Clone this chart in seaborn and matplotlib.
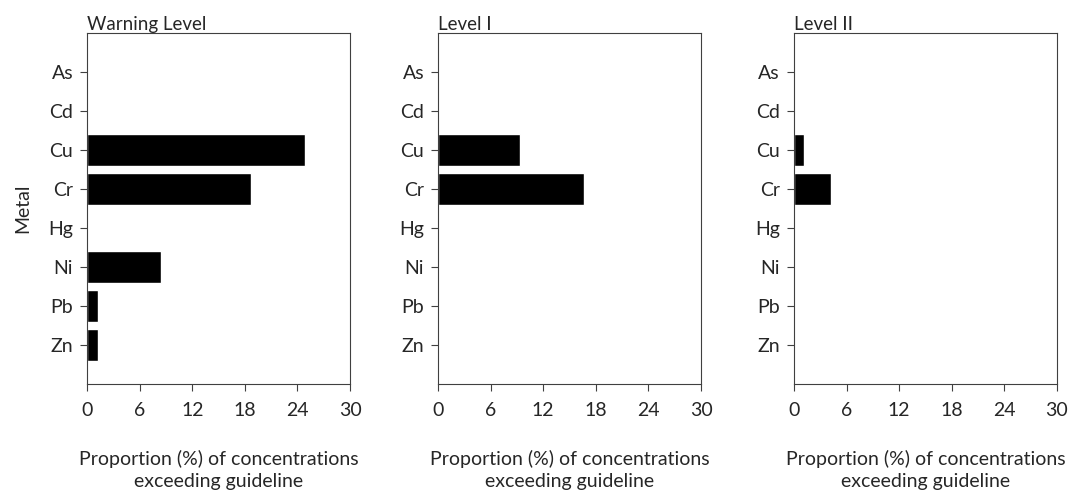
import pandas as pd
from matplotlib import pyplot as plt
import seaborn as sns

metals = ["As", "Cd", "Cu", "Cr", "Hg", "Ni", "Pb", "Zn"]
warning_level = [0, 0, 24.9, 18.7, 0, 8.4, 1.2, 1.2]
level_1 = [0, 0, 9.4, 16.6, 0, 0, 0, 0]
level_2 = [0, 0, 1.1, 4.2, 0, 0, 0, 0]
panel_titles = ["Warning Level", "Level I", "Level II"]
x_ticks = [0, 6, 12, 18, 24, 30]

sns.set_style("ticks")
plt.rcParams['font.family'] = ['Lato', 'DejaVu Sans']
plt.rcParams['font.size'] = 14

fig = plt.figure(figsize=(10.68, 4.92), dpi=100)
lefts = [0.0815, 0.4101, 0.7434]

for i, (vals, title) in enumerate(zip([warning_level, level_1, level_2], panel_titles)):
    ax = fig.add_axes([lefts[i], 0.2195, 0.2463, 0.7134])
    df = pd.DataFrame({"Metal": metals, "Proportion": vals})
    sns.barplot(data=df, x="Proportion", y="Metal", color="black",
                saturation=1, width=0.82, order=metals, ax=ax)
    ax.set_xlim(0, 30)
    ax.set_ylim(8, -1)
    ax.set_xticks(x_ticks)
    ax.set_xticklabels([str(t) for t in x_ticks], fontsize=14)
    ax.tick_params(axis='y', labelsize=14, length=5, width=0.8, pad=5, color="#404040")
    ax.tick_params(axis='x', length=5, width=0.8, pad=8, color="#404040")
    for s in ax.spines.values():
        s.set_visible(True)
        s.set_linewidth(0.8)
        s.set_color("#404040")
    ax.set_xlabel("Proportion (%) of concentrations\nexceeding guideline",
                  fontsize=14, labelpad=22, linespacing=1.4)
    if i == 0:
        ax.set_ylabel("Metal", fontsize=14, labelpad=12)
    else:
        ax.set_ylabel("")
    ax.set_title(title, loc="left", fontsize=13.5, pad=2)

plt.savefig("out.png", dpi=100)
